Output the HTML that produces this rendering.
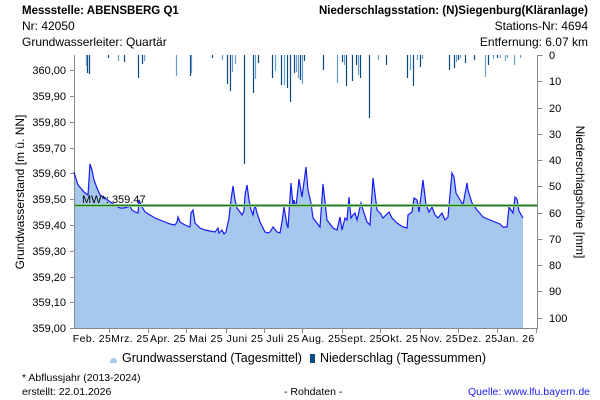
<!DOCTYPE html>
<html><head><meta charset="utf-8"><style>
body{margin:0;background:#fff;}
svg{display:block;font-family:"Liberation Sans",sans-serif;}
</style></head><body>
<svg width="600" height="400" viewBox="0 0 600 400" xmlns="http://www.w3.org/2000/svg">
<rect width="600" height="400" fill="#fff"/>
<g font-size="12" fill="#000">
<text x="22" y="14" font-weight="bold" font-size="11.5">Messstelle: ABENSBERG Q1</text>
<text x="22" y="30">Nr: 42050</text>
<text x="22" y="46">Grundwasserleiter: Quartär</text>
<text x="588" y="14" text-anchor="end" font-weight="bold" font-size="11.5">Niederschlagsstation: (N)Siegenburg(Kläranlage)</text>
<text x="588" y="30" text-anchor="end">Stations-Nr: 4694</text>
<text x="588" y="46" text-anchor="end">Entfernung: 6.07 km</text>
</g>
<path fill="#a6c8ee" d="M74,328 L74,172 78,185 84,192 88,195 90,164 92,170 94,180 97,188 100,195 105,198 109,201 112,203 116,206 120,208 124,208 128,207 130,206 132,210 135,212 138,213 139,200 141,205 145,212 150,215 155,218 160,220 165,222 170,224 175,225 177,222 178,217 180,222 185,225 190,227 191,213 193,210 195,223 200,228 205,230 210,231 215,232 218,228 219,233 222,230 224,234 226,232 229,218 231,200 233,186 235,200 237,208 240,212 242,215 244,211 245,195 247,185 249,200 251,210 253,215 254,209 255,205 257,213 260,222 263,228 265,232 268,233 270,232 273,227 277,232 280,233 282,222 284,207 287,225 288,228 291,183 293,205 294,200 296,207 299,179 302,197 306,167 308,190 311,203 313,218 320,227 323,184 327,220 333,228 337,230 340,217 342,230 345,218 347,220 349,197 351,218 353,215 355,213 357,220 361,203 363,210 367,222 370,225 373,178 377,210 380,213 383,218 389,212 392,218 397,223 403,227 407,228 408,215 412,212 414,198 417,200 419,212 423,180 426,205 429,212 432,207 435,215 438,218 442,213 445,220 448,217 452,173 454,177 456,193 459,198 463,205 467,183 468,190 472,203 477,210 483,217 490,220 500,224 503,227 507,227 509,207 513,213 515,197 517,199 519,211 523,218 L523,328 Z"/>
<g stroke="#888" stroke-width="1" fill="none">
<path d="M74.5,55 V328.5 H537.5 V55"/>
<path d="M70,70.5h4.5M70,96.5h4.5M70,122.5h4.5M70,148.5h4.5M70,173.5h4.5M70,199.5h4.5M70,225.5h4.5M70,251.5h4.5M70,277.5h4.5M70,302.5h4.5M70,328.5h4.5"/>
<path d="M537.5,55.5h5M537.5,81.5h5M537.5,108.5h5M537.5,134.5h5M537.5,160.5h5M537.5,186.5h5M537.5,213.5h5M537.5,239.5h5M537.5,265.5h5M537.5,291.5h5M537.5,318.5h5"/>
<path d="M109.5,328v5M148.5,328v5M186.5,328v5M226.5,328v5M264.5,328v5M302.5,328v5M342.5,328v5M380.5,328v5M420.5,328v5M458.5,328v5M497.5,328v5M536.5,328v5"/>
</g>
<g stroke-width="1.2">
<path stroke="#0b4a80" d="M87.5,55V73M89.5,55V74M108.5,55V58M124.5,55V62M138.5,55V78M142.5,55V64M190.5,55V76M212.5,55V58M227.5,55V84M230.5,55V91M244.5,55V164M253.5,55V93M258.5,55V63M272.5,55V78M281.5,55V85M287.5,55V88M290.5,55V102M294.5,55V73M300.5,55V80M304.5,55V61M323.5,55V70M342.5,55V62M346.5,55V86M352.5,55V81M356.5,55V65M360.5,55V78M369.5,55V118M386.5,55V65M407.5,55V78M413.5,55V86M420.5,55V67M449.5,55V70M454.5,55V68M458.5,55V60M465.5,55V63M474.5,55V60M488.5,55V65M497.5,55V58"/>
<path stroke="#6a9ccc" d="M86.5,55V66M118.5,55V61M144.5,55V61M176.5,55V76M191.5,55V73M222.5,55V60M232.5,55V72M235.5,55V64M255.5,55V79M275.5,55V71M284.5,55V85M296.5,55V72M298.5,55V78M302.5,55V84M337.5,55V83M344.5,55V65M358.5,55V75M378.5,55V60M410.5,55V70M417.5,55V60M422.5,55V59M456.5,55V62M460.5,55V58M485.5,55V77M493.5,55V59M500.5,55V58M505.5,55V61M507.5,55V58M514.5,55V65M520.5,55V58"/>
</g>
<polyline fill="none" stroke="#1a1aee" stroke-width="1.2" points="74,172 78,185 84,192 88,195 90,164 92,170 94,180 97,188 100,195 105,198 109,201 112,203 116,206 120,208 124,208 128,207 130,206 132,210 135,212 138,213 139,200 141,205 145,212 150,215 155,218 160,220 165,222 170,224 175,225 177,222 178,217 180,222 185,225 190,227 191,213 193,210 195,223 200,228 205,230 210,231 215,232 218,228 219,233 222,230 224,234 226,232 229,218 231,200 233,186 235,200 237,208 240,212 242,215 244,211 245,195 247,185 249,200 251,210 253,215 254,209 255,205 257,213 260,222 263,228 265,232 268,233 270,232 273,227 277,232 280,233 282,222 284,207 287,225 288,228 291,183 293,205 294,200 296,207 299,179 302,197 306,167 308,190 311,203 313,218 320,227 323,184 327,220 333,228 337,230 340,217 342,230 345,218 347,220 349,197 351,218 353,215 355,213 357,220 361,203 363,210 367,222 370,225 373,178 377,210 380,213 383,218 389,212 392,218 397,223 403,227 407,228 408,215 412,212 414,198 417,200 419,212 423,180 426,205 429,212 432,207 435,215 438,218 442,213 445,220 448,217 452,173 454,177 456,193 459,198 463,205 467,183 468,190 472,203 477,210 483,217 490,220 500,224 503,227 507,227 509,207 513,213 515,197 517,199 519,211 523,218"/>
<line x1="75" x2="537" y1="205.5" y2="205.5" stroke="#9fd39f" stroke-width="3"/>
<line x1="75" x2="537" y1="205.5" y2="205.5" stroke="#1f7a1f" stroke-width="1.3"/>
<text x="82" y="203" font-size="11">MW*: 359.47</text>
<g font-size="11" text-anchor="end">
<text x="66" y="74">360,00</text><text x="66" y="100">359,90</text><text x="66" y="126">359,80</text><text x="66" y="152">359,70</text><text x="66" y="177">359,60</text><text x="66" y="203">359,50</text><text x="66" y="229">359,40</text><text x="66" y="255">359,30</text><text x="66" y="281">359,20</text><text x="66" y="306">359,10</text><text x="66" y="332">359,00</text>
</g>
<g font-size="11">
<text x="549" y="59">0</text><text x="549" y="85">10</text><text x="549" y="112">20</text><text x="549" y="138">30</text><text x="549" y="164">40</text><text x="549" y="190">50</text><text x="549" y="217">60</text><text x="549" y="243">70</text><text x="549" y="269">80</text><text x="549" y="295">90</text><text x="549" y="322">100</text>
</g>
<text transform="translate(24,192) rotate(-90)" font-size="12" text-anchor="middle">Grundwasserstand [m ü. NN]</text>
<text transform="translate(576,192) rotate(90)" font-size="12" text-anchor="middle">Niederschlagshöhe [mm]</text>
<g font-size="10.5" text-anchor="middle" letter-spacing="0.4">
<text x="92" y="342">Feb. 25</text><text x="130" y="342">Mrz. 25</text><text x="168" y="342">Apr. 25</text><text x="206" y="342">Mai 25</text><text x="245" y="342">Juni 25</text><text x="283" y="342">Juli 25</text><text x="321" y="342">Aug. 25</text><text x="361" y="342">Sept. 25</text><text x="400" y="342">Okt. 25</text><text x="439" y="342">Nov. 25</text><text x="478" y="342">Dez. 25</text><text x="516" y="342">Jan. 26</text>
</g>
<path d="M110,362 a3.5,4 0 0 1 7,0 v1 h-7z" fill="#a6c8ee"/>
<text x="122" y="362" font-size="12.5">Grundwasserstand (Tagesmittel)</text>
<rect x="310" y="354" width="5" height="9" fill="#0b4a80"/>
<text x="320" y="362" font-size="12.5">Niederschlag (Tagessummen)</text>
<g font-size="10.5">
<text x="22" y="381">* Abflussjahr (2013-2024)</text>
<text x="22" y="395">erstellt:  22.01.2026</text>
<text x="284" y="395">- Rohdaten -</text>
<text x="590" y="395" text-anchor="end" fill="#1a1aee">Quelle: www.lfu.bayern.de</text>
</g>
</svg>
</body></html>
